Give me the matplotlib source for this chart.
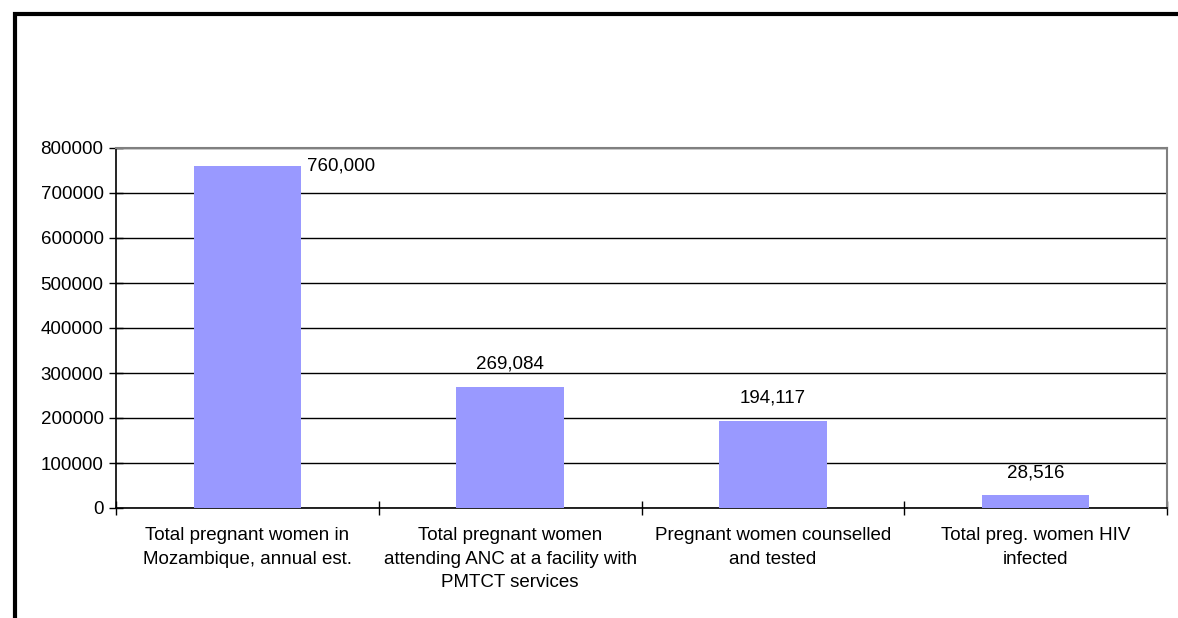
import numpy as np
import matplotlib.pyplot as plt
from matplotlib.patches import Rectangle

# pregnant women cascade, PMTCT services
categories = ["Total pregnant women in\nMozambique, annual est.",
              "Total pregnant women\nattending ANC at a facility with\nPMTCT services",
              "Pregnant women counselled\nand tested",
              "Total preg. women HIV\ninfected"]
values = [760000, 269084, 194117, 28516]
yticks = [0, 100000, 200000, 300000, 400000, 500000, 600000, 700000, 800000]

plt.rcParams['font.family'] = ['Liberation Sans', 'DejaVu Sans']
plt.rcParams['font.size'] = 13.5

fig = plt.figure(figsize=(11.78, 6.18), dpi=100)
ax = fig.add_axes([116 / 1178, 1 - 508 / 618, (1167 - 116) / 1178, (508 - 148) / 618])

x = np.arange(len(values))
bars = ax.bar(x, values, width=0.41, color='#9999ff', zorder=3)

ax.set_xlim(-0.5, len(values) - 0.5)
ax.set_ylim(0, 800000)
ax.set_yticks(yticks)
ax.set_yticklabels([str(v) for v in yticks])
ax.yaxis.grid(True, color='black', linewidth=1, zorder=0)

# category boundaries get the tick marks, centres get the labels
ax.set_xticks(np.arange(len(values) + 1) - 0.5)
ax.set_xticklabels([])
ax.set_xticks(x, minor=True)
ax.set_xticklabels(categories, minor=True, linespacing=1.5)
ax.tick_params(axis='x', which='minor', length=0, pad=14)
ax.tick_params(axis='x', which='major', direction='inout', length=10, width=1)
ax.tick_params(axis='y', direction='inout', length=10, width=1, pad=4)

for s in ['left', 'bottom']:
    ax.spines[s].set_color('black')
    ax.spines[s].set_linewidth(1.2)
for s in ['top', 'right']:
    ax.spines[s].set_color('#808080')
    ax.spines[s].set_linewidth(1.5)

for i, (b, v) in enumerate(zip(bars, values)):
    txt = f"{v:,}"
    if i == 0:
        ax.annotate(txt, (b.get_x() + b.get_width(), v), xytext=(4, 0),
                    textcoords='offset points', ha='left', va='center')
    else:
        ax.annotate(txt, (b.get_x() + b.get_width() / 2, v), xytext=(0, 13),
                    textcoords='offset points', ha='center', va='baseline')

# outer frame
fig.patches.append(Rectangle((14.5 / 1178, -0.1), 1.2, 1 - 14.5 / 618 + 0.1,
                             transform=fig.transFigure, fill=False,
                             edgecolor='black', linewidth=3))

fig.savefig('out.png', dpi=100)
